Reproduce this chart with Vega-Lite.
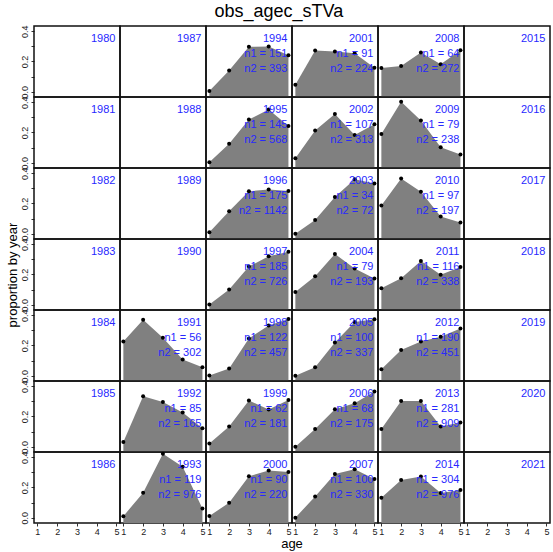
{
  "$schema": "https://vega.github.io/schema/vega-lite/v6.json",
  "padding": {"left": 6, "top": 3, "right": 0, "bottom": 0},
  "background": "white",
  "bounds": "flush",
  "title": {"text": "obs_agec_sTVa", "fontSize": 18, "font": "Liberation Sans", "fontWeight": "normal", "color": "black", "anchor": "middle", "offset": 4},
  "data": {"values": [
    {"year": 1980}, {"year": 1981}, {"year": 1982}, {"year": 1983}, {"year": 1984}, {"year": 1985}, {"year": 1986},
    {"year": 1987}, {"year": 1988}, {"year": 1989}, {"year": 1990},
    {"year": 2015}, {"year": 2016}, {"year": 2017}, {"year": 2018}, {"year": 2019}, {"year": 2020}, {"year": 2021},
    {"year": 1991, "n1": 56, "n2": 302},
    {"year": 1992, "n1": 85, "n2": 165},
    {"year": 1993, "n1": 119, "n2": 976},
    {"year": 1994, "n1": 151, "n2": 393},
    {"year": 1995, "n1": 145, "n2": 568},
    {"year": 1996, "n1": 175, "n2": 1142},
    {"year": 1997, "n1": 185, "n2": 726},
    {"year": 1998, "n1": 122, "n2": 457},
    {"year": 1999, "n1": 62, "n2": 181},
    {"year": 2000, "n1": 90, "n2": 220},
    {"year": 2001, "n1": 91, "n2": 224},
    {"year": 2002, "n1": 107, "n2": 313},
    {"year": 2003, "n1": 34, "n2": 72},
    {"year": 2004, "n1": 79, "n2": 193},
    {"year": 2005, "n1": 100, "n2": 337},
    {"year": 2006, "n1": 68, "n2": 175},
    {"year": 2007, "n1": 100, "n2": 330},
    {"year": 2008, "n1": 64, "n2": 272},
    {"year": 2009, "n1": 79, "n2": 238},
    {"year": 2010, "n1": 97, "n2": 197},
    {"year": 2011, "n1": 116, "n2": 338},
    {"year": 2012, "n1": 190, "n2": 451},
    {"year": 2013, "n1": 281, "n2": 909},
    {"year": 2014, "n1": 304, "n2": 976},
    {"year": 1991, "age": 1, "prop": 0.227}, {"year": 1991, "age": 2, "prop": 0.371}, {"year": 1991, "age": 3, "prop": 0.251}, {"year": 1991, "age": 4, "prop": 0.107}, {"year": 1991, "age": 5, "prop": 0.056},
    {"year": 1992, "age": 1, "prop": 0.032}, {"year": 1992, "age": 2, "prop": 0.334}, {"year": 1992, "age": 3, "prop": 0.296}, {"year": 1992, "age": 4, "prop": 0.227}, {"year": 1992, "age": 5, "prop": 0.123},
    {"year": 1993, "age": 1, "prop": 0.010}, {"year": 1993, "age": 2, "prop": 0.166}, {"year": 1993, "age": 3, "prop": 0.423}, {"year": 1993, "age": 4, "prop": 0.337}, {"year": 1993, "age": 5, "prop": 0.061},
    {"year": 1994, "age": 1, "prop": 0.005}, {"year": 1994, "age": 2, "prop": 0.141}, {"year": 1994, "age": 3, "prop": 0.297}, {"year": 1994, "age": 4, "prop": 0.299}, {"year": 1994, "age": 5, "prop": 0.241},
    {"year": 1995, "age": 1, "prop": 0.003}, {"year": 1995, "age": 2, "prop": 0.126}, {"year": 1995, "age": 3, "prop": 0.286}, {"year": 1995, "age": 4, "prop": 0.352}, {"year": 1995, "age": 5, "prop": 0.243},
    {"year": 1996, "age": 1, "prop": 0.010}, {"year": 1996, "age": 2, "prop": 0.148}, {"year": 1996, "age": 3, "prop": 0.281}, {"year": 1996, "age": 4, "prop": 0.292}, {"year": 1996, "age": 5, "prop": 0.283},
    {"year": 1997, "age": 1, "prop": 0.002}, {"year": 1997, "age": 2, "prop": 0.100}, {"year": 1997, "age": 3, "prop": 0.253}, {"year": 1997, "age": 4, "prop": 0.320}, {"year": 1997, "age": 5, "prop": 0.351},
    {"year": 1998, "age": 1, "prop": 0.002}, {"year": 1998, "age": 2, "prop": 0.047}, {"year": 1998, "age": 3, "prop": 0.247}, {"year": 1998, "age": 4, "prop": 0.333}, {"year": 1998, "age": 5, "prop": 0.376},
    {"year": 1999, "age": 1, "prop": 0.021}, {"year": 1999, "age": 2, "prop": 0.134}, {"year": 1999, "age": 3, "prop": 0.306}, {"year": 1999, "age": 4, "prop": 0.246}, {"year": 1999, "age": 5, "prop": 0.310},
    {"year": 2000, "age": 1, "prop": 0.012}, {"year": 2000, "age": 2, "prop": 0.099}, {"year": 2000, "age": 3, "prop": 0.274}, {"year": 2000, "age": 4, "prop": 0.312}, {"year": 2000, "age": 5, "prop": 0.303},
    {"year": 2001, "age": 1, "prop": 0.046}, {"year": 2001, "age": 2, "prop": 0.272}, {"year": 2001, "age": 3, "prop": 0.266}, {"year": 2001, "age": 4, "prop": 0.254}, {"year": 2001, "age": 5, "prop": 0.159},
    {"year": 2002, "age": 1, "prop": 0.030}, {"year": 2002, "age": 2, "prop": 0.214}, {"year": 2002, "age": 3, "prop": 0.323}, {"year": 2002, "age": 4, "prop": 0.183}, {"year": 2002, "age": 5, "prop": 0.254},
    {"year": 2003, "age": 1, "prop": 0.000}, {"year": 2003, "age": 2, "prop": 0.090}, {"year": 2003, "age": 3, "prop": 0.243}, {"year": 2003, "age": 4, "prop": 0.361}, {"year": 2003, "age": 5, "prop": 0.332},
    {"year": 2004, "age": 1, "prop": 0.084}, {"year": 2004, "age": 2, "prop": 0.189}, {"year": 2004, "age": 3, "prop": 0.336}, {"year": 2004, "age": 4, "prop": 0.240}, {"year": 2004, "age": 5, "prop": 0.173},
    {"year": 2005, "age": 1, "prop": 0.000}, {"year": 2005, "age": 2, "prop": 0.056}, {"year": 2005, "age": 3, "prop": 0.220}, {"year": 2005, "age": 4, "prop": 0.356}, {"year": 2005, "age": 5, "prop": 0.373},
    {"year": 2006, "age": 1, "prop": 0.000}, {"year": 2006, "age": 2, "prop": 0.117}, {"year": 2006, "age": 3, "prop": 0.248}, {"year": 2006, "age": 4, "prop": 0.288}, {"year": 2006, "age": 5, "prop": 0.366},
    {"year": 2007, "age": 1, "prop": 0.000}, {"year": 2007, "age": 2, "prop": 0.141}, {"year": 2007, "age": 3, "prop": 0.289}, {"year": 2007, "age": 4, "prop": 0.321}, {"year": 2007, "age": 5, "prop": 0.257},
    {"year": 2008, "age": 1, "prop": 0.157}, {"year": 2008, "age": 2, "prop": 0.170}, {"year": 2008, "age": 3, "prop": 0.259}, {"year": 2008, "age": 4, "prop": 0.181}, {"year": 2008, "age": 5, "prop": 0.274},
    {"year": 2009, "age": 1, "prop": 0.190}, {"year": 2009, "age": 2, "prop": 0.403}, {"year": 2009, "age": 3, "prop": 0.279}, {"year": 2009, "age": 4, "prop": 0.103}, {"year": 2009, "age": 5, "prop": 0.054},
    {"year": 2010, "age": 1, "prop": 0.186}, {"year": 2010, "age": 2, "prop": 0.366}, {"year": 2010, "age": 3, "prop": 0.277}, {"year": 2010, "age": 4, "prop": 0.114}, {"year": 2010, "age": 5, "prop": 0.075},
    {"year": 2011, "age": 1, "prop": 0.109}, {"year": 2011, "age": 2, "prop": 0.176}, {"year": 2011, "age": 3, "prop": 0.289}, {"year": 2011, "age": 4, "prop": 0.198}, {"year": 2011, "age": 5, "prop": 0.249},
    {"year": 2012, "age": 1, "prop": 0.042}, {"year": 2012, "age": 2, "prop": 0.171}, {"year": 2012, "age": 3, "prop": 0.227}, {"year": 2012, "age": 4, "prop": 0.258}, {"year": 2012, "age": 5, "prop": 0.313},
    {"year": 2013, "age": 1, "prop": 0.117}, {"year": 2013, "age": 2, "prop": 0.303}, {"year": 2013, "age": 3, "prop": 0.303}, {"year": 2013, "age": 4, "prop": 0.134}, {"year": 2013, "age": 5, "prop": 0.161},
    {"year": 2014, "age": 1, "prop": 0.132}, {"year": 2014, "age": 2, "prop": 0.250}, {"year": 2014, "age": 3, "prop": 0.272}, {"year": 2014, "age": 4, "prop": 0.163}, {"year": 2014, "age": 5, "prop": 0.183}
  ]},
  "transform": [
    {"calculate": "floor((datum.year - 1980) / 7)", "as": "pcol"},
    {"calculate": "(datum.year - 1980) % 7", "as": "prow"}
  ],
  "facet": {
    "row": {"field": "prow", "type": "ordinal", "title": "proportion by year",
            "header": {"labels": false, "titleOrient": "left", "titleFont": "Liberation Sans", "titleFontSize": 13, "titleFontWeight": "normal", "titleColor": "black", "titlePadding": -11}},
    "column": {"field": "pcol", "type": "ordinal", "title": "age",
            "header": {"labels": false, "labelOrient": "bottom", "titleOrient": "bottom", "titleFont": "Liberation Sans", "titleFontSize": 13, "titleFontWeight": "normal", "titleColor": "black", "titlePadding": -8}}
  },
  "spacing": 0,
  "spec": {
    "width": 86,
    "height": 71,
    "layer": [
      {
        "transform": [{"filter": "isValid(datum.age)"}],
        "mark": {"type": "area", "color": "#808080", "opacity": 1},
        "encoding": {
          "x": {"field": "age", "type": "quantitative"},
          "y": {"field": "prop", "type": "quantitative"},
          "y2": {"datum": -0.035}
        }
      },
      {
        "transform": [{"filter": "isValid(datum.age)"}],
        "mark": {"type": "point", "filled": true, "color": "black", "size": 16, "opacity": 1},
        "encoding": {
          "x": {"field": "age", "type": "quantitative", "title": null,
                "scale": {"domain": [0.83, 5.18], "nice": false, "zero": false},
                "axis": {"values": [1, 2, 3, 4, 5], "tickCount": 5, "grid": false, "domain": false, "tickSize": 3, "tickColor": "#333", "labelFontSize": 9, "labelFont": "Liberation Sans", "labelColor": "#222", "labelPadding": 1, "labelFlush": false, "labelOverlap": false}},
          "y": {"field": "prop", "type": "quantitative", "title": null,
                "scale": {"domain": [-0.035, 0.435], "nice": false, "zero": false},
                "axis": {"values": [0, 0.1, 0.2, 0.3, 0.4], "tickCount": 5, "labelExpr": "(round(datum.value * 10) % 2 == 1) ? '' : format(datum.value, '.1f')", "grid": false, "domain": false, "tickSize": 3, "tickColor": "#333", "labelAngle": 270, "labelAlign": "center", "labelBaseline": "bottom", "labelFontSize": 9, "labelFont": "Liberation Sans", "labelColor": "#222", "labelPadding": 2, "labelFlush": false, "labelOverlap": false}}
        }
      },
      {
        "transform": [{"filter": "!isValid(datum.age)"}],
        "mark": {"type": "text", "align": "right", "baseline": "middle", "color": "#2828ff", "font": "Liberation Sans", "fontSize": 11, "dx": -1},
        "encoding": {
          "x": {"datum": 5},
          "y": {"datum": 0.348},
          "text": {"field": "year", "type": "nominal"}
        }
      },
      {
        "transform": [{"filter": "!isValid(datum.age) && isValid(datum.n1)"}, {"calculate": "'n1 = ' + datum.n1", "as": "l1"}],
        "mark": {"type": "text", "align": "right", "baseline": "middle", "color": "#2828ff", "font": "Liberation Sans", "fontSize": 11, "dx": -1},
        "encoding": {
          "x": {"datum": 5},
          "y": {"datum": 0.248},
          "text": {"field": "l1", "type": "nominal"}
        }
      },
      {
        "transform": [{"filter": "!isValid(datum.age) && isValid(datum.n2)"}, {"calculate": "'n2 = ' + datum.n2", "as": "l2"}],
        "mark": {"type": "text", "align": "right", "baseline": "middle", "color": "#2828ff", "font": "Liberation Sans", "fontSize": 11, "dx": -1},
        "encoding": {
          "x": {"datum": 5},
          "y": {"datum": 0.153},
          "text": {"field": "l2", "type": "nominal"}
        }
      }
    ]
  },
  "config": {
    "view": {"stroke": "#111", "strokeWidth": 1.5},
    "font": "Liberation Sans",
    "axisY": {"labelOverlap": false}
  }
}
